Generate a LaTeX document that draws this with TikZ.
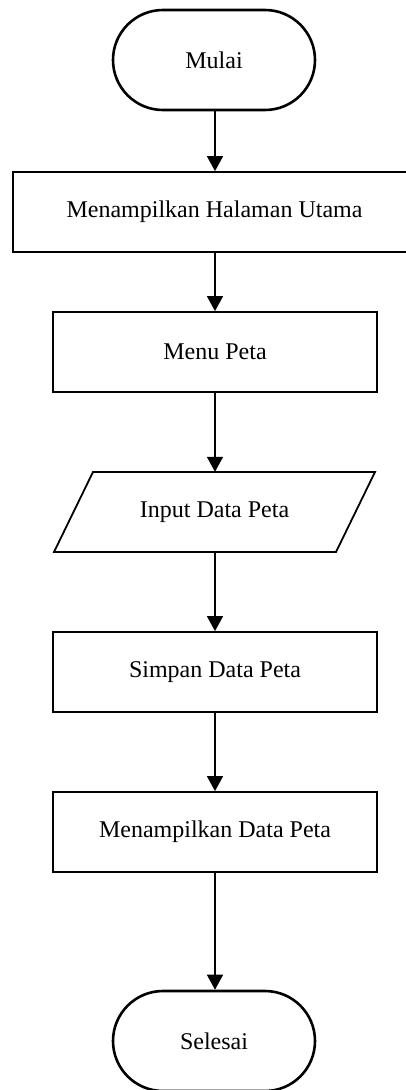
\documentclass[tikz,border=0pt]{standalone}
\usepackage{fontspec}
\setmainfont{Liberation Serif}
\usetikzlibrary{arrows.meta}
\begin{document}
\begin{tikzpicture}[x=1pt,y=-1pt,
  term/.style={draw, line width=2.6pt, rectangle, rounded corners=50pt, minimum width=202pt, minimum height=100pt, inner sep=0pt, font=\fontsize{24}{28}\selectfont},
  proc/.style={draw, line width=1.8pt, rectangle, minimum width=324pt, minimum height=80pt, inner sep=0pt, font=\fontsize{24}{28}\selectfont},
  io/.style={rectangle, minimum width=243pt, minimum height=80pt, inner sep=0pt, font=\fontsize{24}{28}\selectfont},
  flow/.style={line width=1.6pt, -{Triangle[width=16pt,length=15pt]}}]
\useasboundingbox (0,0) rectangle (406,1090);
\begin{scope}
\clip (0,0) rectangle (406,1090);
\node[term] (mulai) at (214,60) {Mulai};
\node[proc, minimum width=403pt] (hal) at (214.5,212) {Menampilkan Halaman Utama};
\node[proc] (menu) at (215,352) {Menu Peta};
\node[io] (inp) at (214.5,512) {Input Data Peta};
\draw[line width=1.8pt, line join=miter] (93,472) -- (375,472) -- (336,552) -- (54,552) -- cycle;
\node[proc] (simpan) at (215,672) {Simpan Data Peta};
\node[proc] (tampil) at (215,832) {Menampilkan Data Peta};
\node[term] (selesai) at (214,1041) {Selesai};
\end{scope}
\draw[flow] (mulai.south -| 215,0) -- (hal.north -| 215,0);
\draw[flow] (hal.south -| 215,0) -- (menu.north);
\draw[flow] (menu.south) -- (inp.north -| 215,0);
\draw[flow] (inp.south -| 215,0) -- (simpan.north);
\draw[flow] (simpan.south) -- (tampil.north);
\draw[flow] (tampil.south) -- (selesai.north -| 215,0);
\end{tikzpicture}
\end{document}
